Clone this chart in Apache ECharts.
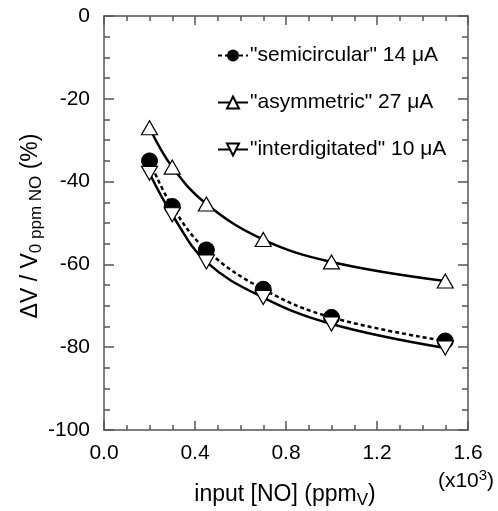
<!DOCTYPE html>
<html style="height: 100%">
<head>
    <meta charset="UTF-8">
    <title>NO response</title>
    <script src="https://cdn.jsdelivr.net/npm/echarts@6/dist/echarts.min.js"></script>
</head>
<body style="height: 100%; margin: 0; background: #fff">
    <div id="main" style="width: 498px; height: 511px;"></div>
    <script>
        // 数据（x 单位：x10^3 ppmV）
        var inputNO = [0.2, 0.3, 0.45, 0.7, 1.0, 1.5];
        var semicircular = [-35, -46, -56.5, -66, -72.8, -78.5];
        var asymmetric = [-27, -36.5, -45.4, -54, -59.4, -64];
        var interdigitated = [-38, -48, -59.4, -68, -74.4, -80.2];
        var seriesNames = ['"semicircular" 14 \u03bcA', '"asymmetric" 27 \u03bcA', '"interdigitated" 10 \u03bcA'];

        function pairs(ys) {
            return inputNO.map(function (x, i) { return [x, ys[i]]; });
        }

        var font = 'Liberation Sans, Arial, sans-serif';
        var axisColor = '#555';
        var fs = 21;

        var myChart = echarts.init(document.getElementById('main'));

        function xAxisCfg(pos, showLabel) {
            return {
                type: 'value', position: pos, min: 0, max: 1.6, interval: 0.4,
                axisLine: { show: true, onZero: false, lineStyle: { color: axisColor, width: 1.5 } },
                axisTick: { show: true, inside: true, length: 9, lineStyle: { color: axisColor, width: 1.5 } },
                minorTick: { show: true, splitNumber: 4, length: 5, lineStyle: { color: axisColor, width: 1.5 } },
                splitLine: { show: false },
                axisLabel: { show: showLabel, color: '#000', fontSize: fs, fontFamily: font, margin: 13,
                    formatter: function (v) { return v.toFixed(1); } }
            };
        }
        function yAxisCfg(pos, showLabel) {
            return {
                type: 'value', position: pos, min: -100, max: 0, interval: 20,
                axisLine: { show: true, onZero: false, lineStyle: { color: axisColor, width: 1.5 } },
                axisTick: { show: true, inside: true, length: 10, lineStyle: { color: axisColor, width: 1.5 } },
                minorTick: { show: true, splitNumber: 4, length: 6, lineStyle: { color: axisColor, width: 1.5 } },
                splitLine: { show: false },
                axisLabel: { show: showLabel, color: '#000', fontSize: fs, fontFamily: font, margin: 14 }
            };
        }

        var rich = {
            m: { fontSize: fs, fontFamily: font, fill: '#000', lineHeight: 28 },
            xm: { fontSize: 23, fontFamily: font, fill: '#000', lineHeight: 30 },
            xs: { fontSize: 17, fontFamily: font, fill: '#000', lineHeight: 30, padding: [10, 0, 0, 0] },
            p: { fontSize: 15, fontFamily: font, fill: '#000', lineHeight: 28, padding: [0, 0, 11, 0] }
        };

        var option = {
            animation: false,
            backgroundColor: '#fff',
            grid: { left: 104, right: 30, top: 16, bottom: 81 },
            legend: {
                orient: 'vertical', left: 212, top: 40,
                itemWidth: 30, itemHeight: 15, itemGap: 26,
                textStyle: { color: '#000', fontSize: fs, fontFamily: font, padding: [0, 0, 0, -3] },
                data: seriesNames
            },
            xAxis: [xAxisCfg('bottom', true), xAxisCfg('top', false)],
            yAxis: [yAxisCfg('left', true), yAxisCfg('right', false)],
            graphic: [
                {
                    type: 'text', x: 31, y: 226, rotation: Math.PI / 2,
                    style: {
                        text: '{xm|\u0394V / V}{xs|0 ppm NO}{xm| (%)}',
                        align: 'center', verticalAlign: 'middle', rich: rich
                    }
                },
                {
                    type: 'text', x: 285, y: 495,
                    style: {
                        text: '{xm|input [NO] (ppm}{xs|V}{xm|)}',
                        align: 'center', verticalAlign: 'middle', rich: rich
                    }
                },
                {
                    type: 'text', x: 466, y: 481,
                    style: {
                        text: '{m|(x10}{p|3}{m|)}',
                        align: 'center', verticalAlign: 'middle', rich: rich
                    }
                }
            ],
            series: [
                {
                    name: seriesNames[0], type: 'line', smooth: 0.4, data: pairs(semicircular),
                    symbol: 'circle', symbolSize: 16,
                    lineStyle: { color: '#000', width: 2.5, type: [4, 3] },
                    itemStyle: { color: '#000', borderColor: '#000' }
                },
                {
                    name: seriesNames[1], type: 'line', smooth: 0.4, data: pairs(asymmetric),
                    symbol: 'triangle', symbolSize: [16, 14],
                    lineStyle: { color: '#000', width: 2.5 },
                    itemStyle: { color: '#fff', borderColor: '#000', borderWidth: 1.2 }
                },
                {
                    name: seriesNames[2], type: 'line', smooth: 0.4, data: pairs(interdigitated),
                    symbol: 'triangle', symbolRotate: 180, symbolSize: [16, 14],
                    lineStyle: { color: '#000', width: 2.5 },
                    itemStyle: { color: '#fff', borderColor: '#000', borderWidth: 1.2 }
                }
            ]
        };
        myChart.setOption(option);
    </script>
</body>
</html>
